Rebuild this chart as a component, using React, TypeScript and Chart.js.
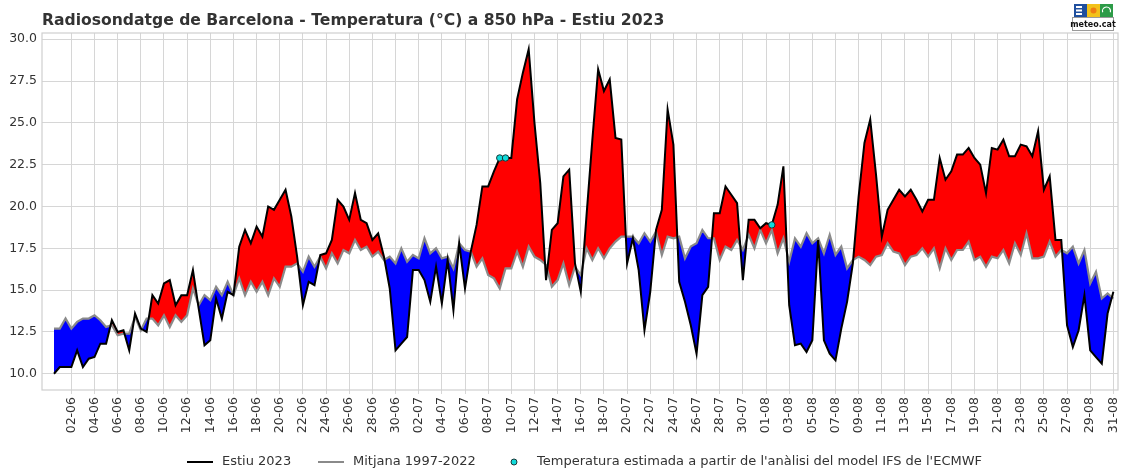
import React, { useEffect, useRef } from "react";
import { Chart, registerables } from "chart.js";

Chart.register(...registerables);

// ---- Data (two soundings per day, 00 and 12 UTC) ----
const tickLabels: string[] = [
  "02-06", "04-06", "06-06", "08-06", "10-06", "12-06", "14-06", "16-06", "18-06", "20-06",
  "22-06", "24-06", "26-06", "28-06", "30-06", "02-07", "04-07", "06-07", "08-07", "10-07",
  "12-07", "14-07", "16-07", "18-07", "20-07", "22-07", "24-07", "26-07", "28-07", "30-07",
  "01-08", "03-08", "05-08", "07-08", "09-08", "11-08", "13-08", "15-08", "17-08", "19-08",
  "21-08", "23-08", "25-08", "27-08", "29-08", "31-08",
];

const summer2023: number[] = [
  10.0, 10.4, 10.4, 10.4, 11.4, 10.4, 10.9, 11.0, 11.8, 11.8,
  13.2, 12.5, 12.6, 11.4, 13.6, 12.7, 12.5, 14.7, 14.2, 15.4,
  15.6, 14.1, 14.7, 14.7, 16.2, 13.9, 11.7, 12.0, 14.5, 13.3,
  14.9, 14.7, 17.6, 18.6, 17.8, 18.8, 18.2, 20.0, 19.8, 20.4,
  21.0, 19.4, 17.0, 14.1, 15.5, 15.3, 17.1, 17.2, 18.0, 20.4,
  20.0, 19.2, 20.8, 19.2, 19.0, 18.0, 18.4, 17.0, 15.1, 11.4,
  11.8, 12.2, 16.2, 16.2, 15.6, 14.3, 16.4, 14.2, 16.8, 13.8,
  17.8, 15.1, 17.3, 18.9, 21.2, 21.2, 22.1, 22.9, 22.9, 22.9,
  26.4, 28.0, 29.4, 25.0, 21.4, 15.6, 18.6, 19.0, 21.8, 22.2,
  16.6, 14.9, 19.5, 24.0, 28.2, 26.9, 27.6, 24.1, 24.0, 16.6,
  18.1, 16.2, 12.6, 14.9, 18.6, 19.8, 25.8, 23.7, 15.5, 14.3,
  12.9, 11.2, 14.7, 15.2, 19.6, 19.6, 21.2, 20.7, 20.2, 15.6,
  19.2, 19.2, 18.7, 19.0, 18.9, 20.1, 22.4, 14.1, 11.7, 11.8,
  11.3, 12.0, 18.0, 12.0, 11.2, 10.8, 12.7, 14.3, 16.6, 20.6,
  23.8, 25.2, 21.9, 18.2, 19.8, 20.4, 21.0, 20.6, 21.0, 20.4,
  19.7, 20.4, 20.4, 22.9, 21.6, 22.1, 23.1, 23.1, 23.5, 22.9,
  22.5, 20.8, 23.5, 23.4, 24.0, 23.0, 23.0, 23.7, 23.6, 23.0,
  24.5, 21.0, 21.8, 18.0, 18.0, 12.9, 11.6, 12.6, 14.7, 11.4,
  11.0, 10.6, 13.6, 14.9,
];

const mean19972022: number[] = [
  12.7, 12.7, 13.3, 12.7, 13.1, 13.3, 13.3, 13.5, 13.2, 12.8,
  12.9, 12.3, 12.4, 12.4, 13.4, 12.6, 13.3, 13.3, 12.9, 13.5,
  12.8, 13.5, 13.1, 13.5, 15.1, 14.1, 14.7, 14.4, 15.2, 14.7,
  15.5, 14.7, 15.7, 14.7, 15.5, 14.9, 15.5, 14.7, 15.7, 15.2,
  16.4, 16.4, 16.6, 16.1, 17.0, 16.4, 17.0, 16.3, 17.2, 16.6,
  17.4, 17.2, 18.0, 17.4, 17.6, 17.0, 17.3, 16.8, 17.0, 16.6,
  17.5, 16.7, 17.1, 16.9, 18.1, 17.2, 17.5, 16.9, 17.0, 16.3,
  17.8, 17.4, 17.3, 16.4, 16.9, 15.9, 15.7, 15.1, 16.3, 16.3,
  17.3, 16.4, 17.6, 17.0, 16.8, 16.5, 15.2, 15.6, 16.6, 15.3,
  16.4, 15.9, 17.5, 16.8, 17.5, 16.9, 17.5, 17.9, 18.2, 18.2,
  18.2, 17.8, 18.4, 17.9, 18.5, 17.1, 18.2, 18.1, 18.2, 16.9,
  17.6, 17.8, 18.6, 18.1, 18.1, 16.8, 17.6, 17.4, 18.0, 17.4,
  18.3, 17.5, 18.6, 17.8, 18.6, 17.2, 18.1, 16.7, 18.1, 17.6,
  18.4, 17.8, 18.1, 17.2, 18.3, 17.1, 17.6, 16.3, 16.8, 17.0,
  16.8, 16.5, 17.0, 17.1, 17.8, 17.3, 17.2, 16.5, 17.0, 17.1,
  17.5, 17.0, 17.5, 16.3, 17.5, 16.8, 17.4, 17.4, 17.9, 16.8,
  17.0, 16.4, 17.0, 16.9, 17.4, 16.6, 17.8, 17.1, 18.4, 16.9,
  16.9, 17.0, 17.9, 17.0, 17.4, 17.2, 17.6, 16.6, 17.4, 15.4,
  16.1, 14.5, 14.8, 14.5,
];

const estimatedIndex: number[] = [77, 78, 124];
const estimatedValues: number[] = [22.9, 22.9, 18.9];

const yTickValues: number[] = [10, 12.5, 15, 17.5, 20, 22.5, 25, 27.5, 30];

const TITLE = "Radiosondatge de Barcelona - Temperatura (°C) a 850 hPa - Estiu 2023";
const legendLabels: string[] = [
  "Estiu 2023",
  "Mitjana 1997-2022",
  "Temperatura estimada a partir de l'anàlisi del model IFS de l'ECMWF",
];

const FONT = '"DejaVu Sans", "Liberation Sans", sans-serif';
const GRID = "#d6d6d6";
const TEXT = "#333333";

const decorPlugin = {
  id: "decor",
  beforeDatasetsDraw(chart: any) {
    const { ctx, chartArea } = chart;
    ctx.save();
    ctx.strokeStyle = "#cfcfcf";
    ctx.lineWidth = 1.2;
    ctx.strokeRect(chartArea.left, chartArea.top, chartArea.right - chartArea.left, chartArea.bottom - chartArea.top);
    ctx.restore();
  },
  afterDraw(chart: any) {
    const { ctx } = chart;
    ctx.save();
    // Title
    ctx.fillStyle = TEXT;
    ctx.font = `bold 15.6px ${FONT}`;
    ctx.textBaseline = "alphabetic";
    ctx.textAlign = "left";
    ctx.fillText(TITLE, 42, 25);

    // Legend
    const ly = 462;
    ctx.font = `13px ${FONT}`;
    ctx.textBaseline = "middle";
    ctx.lineWidth = 2;
    ctx.strokeStyle = "#000";
    ctx.beginPath();
    ctx.moveTo(187, ly);
    ctx.lineTo(213, ly);
    ctx.stroke();
    ctx.fillText(legendLabels[0], 222, ly);
    ctx.strokeStyle = "#8a8a8a";
    ctx.beginPath();
    ctx.moveTo(318, ly);
    ctx.lineTo(344, ly);
    ctx.stroke();
    ctx.fillText(legendLabels[1], 353, ly);
    ctx.beginPath();
    ctx.arc(514, ly, 3, 0, Math.PI * 2);
    ctx.fillStyle = "#11dada";
    ctx.fill();
    ctx.lineWidth = 1;
    ctx.strokeStyle = "#1b3838";
    ctx.stroke();
    ctx.fillStyle = TEXT;
    ctx.fillText(legendLabels[2], 537, ly);

    // Logo (meteo.cat)
    ctx.fillStyle = "#1f4f9e";
    ctx.fillRect(1074, 4, 13, 13);
    ctx.fillStyle = "#ffffff";
    ctx.fillRect(1076, 6, 6, 2);
    ctx.fillRect(1076, 9.5, 6, 2);
    ctx.fillRect(1076, 13, 6, 2);
    ctx.fillStyle = "#f2c21a";
    ctx.fillRect(1087, 4, 13, 13);
    ctx.fillStyle = "#ee7d12";
    ctx.beginPath();
    ctx.arc(1093.5, 10.5, 3, 0, Math.PI * 2);
    ctx.fill();
    ctx.fillStyle = "#2d9b48";
    ctx.fillRect(1100, 4, 13, 13);
    ctx.strokeStyle = "#ffffff";
    ctx.lineWidth = 1.2;
    ctx.beginPath();
    ctx.arc(1106.5, 11, 4, Math.PI * 0.9, Math.PI * 2.1);
    ctx.stroke();
    ctx.fillStyle = "#ffffff";
    ctx.fillRect(1072, 17, 42, 14);
    ctx.strokeStyle = "#9a9a9a";
    ctx.lineWidth = 1;
    ctx.strokeRect(1072.5, 17.5, 41, 13);
    ctx.fillStyle = "#111";
    ctx.font = `bold 8px ${FONT}`;
    ctx.textAlign = "center";
    ctx.textBaseline = "middle";
    ctx.fillText("meteo.cat", 1093, 24.5);
    ctx.restore();
  },
};

export default function App() {
  const canvasRef = useRef<HTMLCanvasElement | null>(null);

  useEffect(() => {
    const canvas = canvasRef.current;
    if (!canvas) return;
    const observed = summer2023.map((v, i) => ({ x: i, y: v }));
    const mean = mean19972022.map((v, i) => ({ x: i, y: v }));
    const estimated = estimatedIndex.map((i, k) => ({ x: i, y: estimatedValues[k] }));

    const chart = new Chart(canvas, {
      type: "line",
      data: {
        datasets: [
          {
            label: legendLabels[0],
            data: observed,
            borderColor: "#000000",
            borderWidth: 2,
            pointRadius: 0,
            tension: 0,
            fill: { target: 1, above: "#ff0000", below: "#0000ff" },
            order: 1,
          },
          {
            label: legendLabels[1],
            data: mean,
            borderColor: "#8a8a8a",
            borderWidth: 2.2,
            pointRadius: 0,
            tension: 0,
            fill: false,
            order: 2,
          },
          {
            label: legendLabels[2],
            data: estimated,
            showLine: false,
            pointRadius: 3.2,
            pointBackgroundColor: "#11dada",
            pointBorderColor: "#1b3838",
            pointBorderWidth: 1,
            fill: false,
            order: 0,
          },
        ],
      },
      options: {
        responsive: false,
        animation: false,
        devicePixelRatio: 1,
        layout: { padding: { left: 0, right: 5, top: 33, bottom: 32 } },
        plugins: {
          legend: { display: false },
          title: { display: false },
          tooltip: { enabled: false },
          filler: { drawTime: "beforeDatasetsDraw" },
        },
        scales: {
          x: {
            type: "linear",
            min: -2.07,
            max: 183.8,
            afterBuildTicks: (scale: any) => {
              scale.ticks = tickLabels.map((_, k) => ({ value: 3 + 4 * k }));
            },
            afterFit: (scale: any) => {
              scale.height = 50;
              scale.paddingLeft = 0;
              scale.paddingRight = 0;
            },
            ticks: {
              autoSkip: false,
              minRotation: 90,
              maxRotation: 90,
              padding: 3,
              color: TEXT,
              font: { family: FONT, size: 12.5 },
              callback: (value: any) => {
                const k = Math.round((Number(value) - 3) / 4);
                return tickLabels[k] ?? "";
              },
            },
            grid: { color: GRID, lineWidth: 1, drawTicks: true, tickLength: 4 },
            border: { display: false },
          },
          y: {
            type: "linear",
            min: 9.03,
            max: 30.37,
            afterBuildTicks: (scale: any) => {
              scale.ticks = yTickValues.map((v) => ({ value: v }));
            },
            afterFit: (scale: any) => {
              scale.width = 42;
              scale.paddingTop = 0;
              scale.paddingBottom = 0;
            },
            ticks: {
              padding: 5,
              color: TEXT,
              font: { family: FONT, size: 12.5 },
              callback: (value: any) => Number(value).toFixed(1),
            },
            grid: { color: GRID, lineWidth: 1, drawTicks: false },
            border: { display: false },
          },
        },
      },
      plugins: [decorPlugin],
    } as any);

    return () => chart.destroy();
  }, []);

  return (
    <div style={{ position: "absolute", left: 0, top: 0, width: 1123, height: 472, background: "#fff" }}>
      <canvas ref={canvasRef} width={1123} height={472} style={{ display: "block" }} />
    </div>
  );
}
